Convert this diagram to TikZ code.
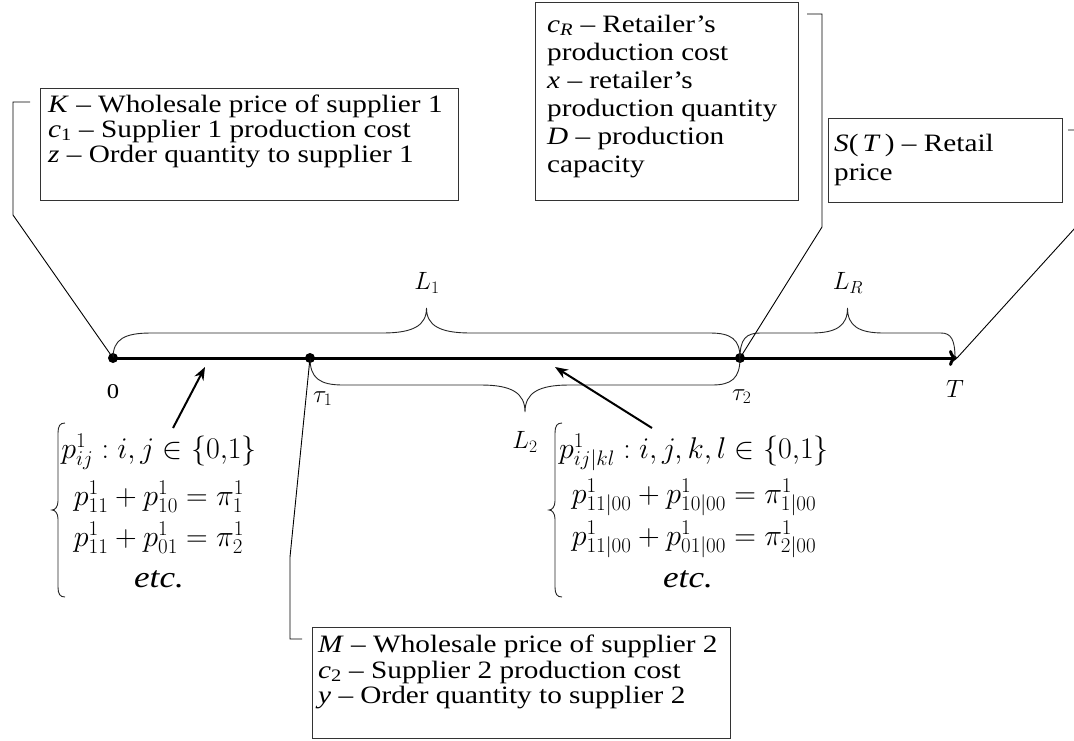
\RequirePackage{fix-cm}
\documentclass[tikz,border=0pt]{standalone}
\usepackage{fontspec}
\setmainfont{Liberation Serif}[FakeStretch=1.17]
\usetikzlibrary{arrows.meta}
% horizontal brace: x0, x1, yline, half-amplitude, corner0, corner1, middle half-width
\newcommand\hbr[7]{%
\draw[brc] (#1,#3) .. controls (#1,{#3-0.75*(#4)}) and ({#1+0.3*#5},{#3-(#4)}) .. ({#1+#5},{#3-(#4)})
 -- ({(#1+#2)/2-#7},{#3-(#4)}) .. controls ({(#1+#2)/2-0.3*#7},{#3-(#4)}) and ({(#1+#2)/2},{#3-1.3*(#4)}) .. ({(#1+#2)/2},{#3-2*(#4)})
 .. controls ({(#1+#2)/2},{#3-1.3*(#4)}) and ({(#1+#2)/2+0.3*#7},{#3-(#4)}) .. ({(#1+#2)/2+#7},{#3-(#4)})
 -- ({#2-#6},{#3-(#4)}) .. controls ({#2-0.3*#6},{#3-(#4)}) and (#2,{#3-0.75*(#4)}) .. (#2,#3);}
% vertical left brace: x, ytop, ybot
\newcommand\vbr[3]{%
\draw[brc] ({#1+7},#2) .. controls ({#1+2},#2) and (#1,{#2+3}) .. (#1,{#2+10})
 -- (#1,{(#2+#3)/2-9}) .. controls (#1,{(#2+#3)/2-3}) and ({#1-3},{(#2+#3)/2}) .. ({#1-6},{(#2+#3)/2})
 .. controls ({#1-3},{(#2+#3)/2}) and (#1,{(#2+#3)/2+3}) .. (#1,{(#2+#3)/2+9})
 -- (#1,{#3-10}) .. controls (#1,{#3-3}) and ({#1+2},#3) .. ({#1+7},#3);}
\begin{document}
\begin{tikzpicture}[x=1pt,y=-1pt,
  frame/.style={draw=black!80, line width=1.1pt, inner sep=0pt, anchor=north west},
  btxt/.style={anchor=base west, inner sep=0pt, font=\fontsize{25}{25}\selectfont},
  mtxt/.style={anchor=base, inner sep=0pt, font=\fontsize{30}{30}\selectfont},
  lbl/.style={inner sep=0pt, font=\fontsize{25}{25}\selectfont},
  conn/.style={draw=black, line width=0.9pt},
  brc/.style={draw=black!85, line width=0.9pt},
  dot/.style={circle, fill=black, inner sep=0pt, minimum size=10pt},
  ptr/.style={line width=2pt, -{Stealth[length=13pt,width=10pt]}},
  axis/.style={line width=3pt, -{To[length=8pt,width=16pt]}}
]
\useasboundingbox (0,0) rectangle (1074,740);
\clip (0,0) rectangle (1074,740);
\fill[white] (0,0) rectangle (1074,740);

% timeline
\node[dot] (d0) at (113,358) {};
\node[dot] (dt1) at (310,358) {};
\node[dot] (dt2) at (740,358) {};
\coordinate (Tend) at (957,358);
\draw[axis] (d0.center) -- (Tend);

% braces
\hbr{113}{740}{358}{25}{38}{30}{44}
\hbr{310}{740}{358}{-27}{33}{28}{44}
\hbr{740}{955}{358}{25}{20}{14}{36}

% labels
\node[lbl] (l1) at (427,283) {$L_1$};
\node[lbl] (l2) at (525,442) {$L_2$};
\node[lbl] (lr) at (848,283) {$L_R$};
\node[lbl, anchor=base, font=\fontsize{21}{21}\selectfont] (t0) at (113,398) {0};
\node[lbl, anchor=base west] (t1) at (313,402) {$\tau_1$};
\node[lbl, anchor=base west] (t2) at (732,400) {$\tau_2$};
\node[lbl, anchor=base] (tT) at (955,397) {$T$};

% connectors
\coordinate (kb1) at (13,215); \coordinate (kb2) at (13,102); \coordinate (kend) at (30,102);
\draw[conn] (d0.center) -- (kb1) -- (kb2) -- (kend);
\coordinate (mb1) at (290,557); \coordinate (mb2) at (290,639); \coordinate (mend) at (302,639);
\draw[conn] (dt1.center) -- (mb1) -- (mb2) -- (mend);
\coordinate (rb1) at (822,227); \coordinate (rb2) at (822,14); \coordinate (rend) at (807,14);
\draw[conn] (dt2.center) -- (rb1) -- (rb2) -- (rend);
\coordinate (sb1) at (1085,217); \coordinate (sb2) at (1085,130); \coordinate (send) at (1068,130);
\draw[conn] (Tend) -- (sb1) -- (sb2) -- (send);

% boxes
\node[frame, minimum width=418pt, minimum height=112pt] (kbox) at (40,88) {};
\node[btxt] (k1) at (48,112) {\textit{K} – Wholesale price of supplier 1};
\node[btxt] (k2) at (48,137) {\textit{c}\textsubscript{1} – Supplier 1 production cost};
\node[btxt] (k3) at (48,162) {\textit{z} – Order quantity to supplier 1};

\node[frame, minimum width=418pt, minimum height=111pt] (mbox) at (312,627) {};
\node[btxt] (m1) at (318,652) {\textit{M} – Wholesale price of supplier 2};
\node[btxt] (m2) at (318,678) {\textit{c}\textsubscript{2} – Supplier 2 production cost};
\node[btxt] (m3) at (318,703) {\textit{y} – Order quantity to supplier 2};

\node[frame, minimum width=263pt, minimum height=198pt] (rbox) at (535,2) {};
\node[btxt] (r1) at (547,32) {\textit{c}\textsubscript{\textit{R}} – Retailer’s};
\node[btxt] (r2) at (547,60) {production cost};
\node[btxt] (r3) at (547,88) {\textit{x} – retailer’s};
\node[btxt] (r4) at (547,116) {production quantity};
\node[btxt] (r5) at (547,144) {\textit{D} – production};
\node[btxt] (r6) at (547,172) {capacity};

\node[frame, minimum width=234pt, minimum height=84pt] (sbox) at (828,118) {};
\node[btxt] (s1) at (834,151) {\textit{S}(\,\textit{T}\,) – Retail};
\node[btxt] (s2) at (834,180) {price};

% left probability block
\vbr{58}{423}{597}
\node[mtxt] (a1) at (159,458) {$p^1_{ij}:i,j\in\{0{,}1\}$};
\node[mtxt] (a2) at (159,505) {$p^1_{11}+p^1_{10}=\pi^1_1$};
\node[mtxt] (a3) at (159,546) {$p^1_{11}+p^1_{01}=\pi^1_2$};
\node[mtxt] (a4) at (159,587) {\textit{etc.}};

% right probability block
\vbr{555}{423}{597}
\node[mtxt] (b1) at (694,458) {$p^1_{ij|kl}:i,j,k,l\in\{0{,}1\}$};
\node[mtxt] (b2) at (694,503) {$p^1_{11|00}+p^1_{10|00}=\pi^1_{1|00}$};
\node[mtxt] (b3) at (694,545) {$p^1_{11|00}+p^1_{01|00}=\pi^1_{2|00}$};
\node[mtxt] (b4) at (688,587) {\textit{etc.}};

% pointer arrows
\coordinate (pt1) at (173,428); \coordinate (pa1) at (205,367);
\draw[ptr] (pt1) -- (pa1);
\coordinate (pt2) at (652,428); \coordinate (pa2) at (555,367);
\draw[ptr] (pt2) -- (pa2);
\end{tikzpicture}
\end{document}
